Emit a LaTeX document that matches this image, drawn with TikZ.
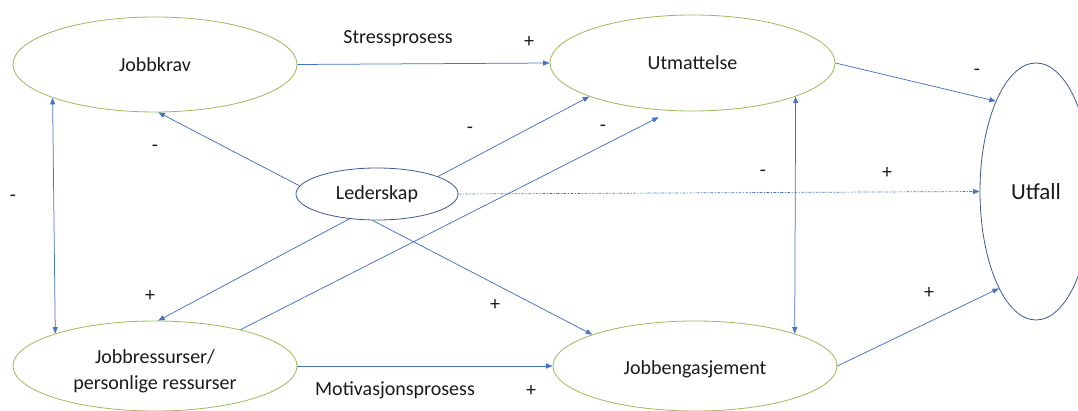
\documentclass[tikz,border=0pt]{standalone}
\usepackage{fontspec}
\setmainfont{Carlito}
\usetikzlibrary{arrows.meta,shapes.geometric}
\definecolor{linkblue}{HTML}{4472C4}
\definecolor{rimgreen}{HTML}{9BBB59}
\definecolor{rimblue}{HTML}{3B5A8F}
\definecolor{inktext}{HTML}{1A1A1A}
\begin{document}
\begin{tikzpicture}[x=1pt,y=-1pt,
  construct/.style={ellipse, draw=rimgreen, line width=0.8pt, inner sep=0pt,
    text=inktext, font=\fontsize{20}{25.5}\selectfont, align=center},
  keynode/.style={ellipse, draw=rimblue, line width=0.8pt, inner sep=0pt,
    text=inktext, font=\fontsize{20}{24}\selectfont},
  tip/.style={-{Triangle[length=6.5pt,width=5pt]}},
  link/.style={draw=linkblue, line width=0.75pt, tip},
  both/.style={draw=linkblue, line width=0.75pt,
    {Triangle[length=6.5pt,width=5pt]}-{Triangle[length=6.5pt,width=5pt]}},
  dashdotlink/.style={link, line width=0.7pt,
    dash pattern=on 3pt off 1.5pt on 1pt off 1.5pt},
  sign/.style={inner sep=0pt, text=inktext, font=\fontsize{20}{24}\selectfont},
  ]
\useasboundingbox (0,0) rectangle (1078,411);
\clip (0,0) rectangle (1078,411);

% constructs of the model (struts keep the captions low enough in their ellipses)
\node[construct, minimum width=284pt, minimum height=95pt] (jk) at (155,64.5) {Jobbkrav};
\node[construct, minimum width=285pt, minimum height=96pt] (ut) at (692.5,63) {Utmattelse};
\node[construct, minimum width=284pt, minimum height=90pt] (jr) at (155,366)
  {\rule{0pt}{24pt}Jobbressurser/\\personlige ressurser};
\node[construct, minimum width=284pt, minimum height=90pt] (je) at (695,366)
  {\rule{0pt}{21pt}Jobbengasjement};
\node[keynode, minimum width=162pt, minimum height=52pt] (le) at (377,194) {Lederskap};
\node[keynode, minimum width=112pt, minimum height=257pt,
  font=\fontsize{23}{27}\selectfont] (uf) at (1036,191.5) {Utfall};

% paths between constructs
\draw[link] (jk.east) -- (ut.west);
\draw[both] (jk.-162) -- (jr.162);
\draw[link] (le.174) -- (jk.-86);
\draw[link] (le.16) -- (ut.-162);
\draw[link, shorten >=14pt] (jr.23) -- (ut.-114);
\draw[link] (le.-138) -- (jr.86);
\draw[link] (le.-100) -- (je.163);
\draw[link] (jr.east) -- (je.west);
\draw[both] (ut.-18.5) -- (je.18);
\draw[link] (ut.east) -- (uf.114);
\draw[dashdotlink] (le.east) -- (uf.west);
\draw[link] (je.east) -- (uf.-111);

% process names
\node[sign, anchor=base] (stress) at (398,43.3) {Stressprosess};
\node[sign, anchor=base] (motiv) at (395,395) {Motivasjonsprosess};

% signs of the effects
\node[sign] (s1) at (529,42) {+};
\node[sign] (s2) at (155,148) {-};
\node[sign] (s3) at (13,198) {-};
\node[sign] (s4) at (470,130) {-};
\node[sign] (s5) at (603,128) {-};
\node[sign] (s6) at (977,72) {-};
\node[sign] (s7) at (763,173) {-};
\node[sign] (s8) at (887,173) {+};
\node[sign] (s9) at (150,296) {+};
\node[sign] (s10) at (495,305) {+};
\node[sign] (s11) at (531,391) {+};
\node[sign] (s12) at (929,293) {+};
\end{tikzpicture}
\end{document}
